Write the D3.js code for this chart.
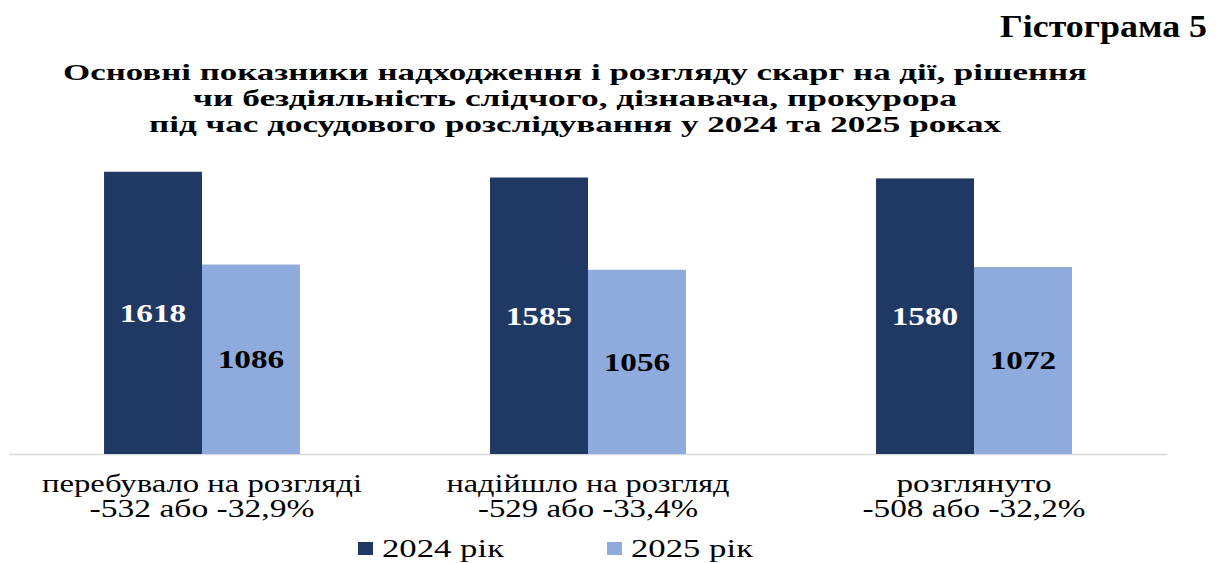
<!DOCTYPE html>
<html>
<head>
<meta charset="utf-8">
<script src="https://cdn.jsdelivr.net/npm/d3@7"></script>
<style>
  html, body { margin: 0; padding: 0; background: #fff; }
  svg { display: block; }
  text { font-family: "Liberation Serif", "Times New Roman", serif; }
</style>
</head>
<body>
<svg id="chart" width="1227" height="563"></svg>
<script>
// ---- data ----
const categories = ["перебувало на розгляді", "надійшло на розгляд", "розглянуто"];
const changeLabels = ["-532 або -32,9%", "-529 або -33,4%", "-508 або -32,2%"];
const seriesNames = ["2024 рік", "2025 рік"];
const values2024 = [1618, 1585, 1580];
const values2025 = [1086, 1056, 1072];
const heading = "Гістограма 5";
const titleLines = [
  "Основні показники надходження і розгляду скарг на дії, рішення",
  "чи бездіяльність слідчого, дізнавача, прокурора",
  "під час досудового розслідування у 2024 та 2025 роках"
];

// ---- layout / style ----
const colors = ["#203864", "#8FAADC"];
const labelColors = ["#ffffff", "#000000"];
const stretch = 1.33; // horizontal stretch of the original typography

const svg = d3.select("#chart");

const x0 = d3.scaleBand().domain(categories).range([9, 1167]).padding(0);
const x1 = d3.scaleBand().domain(seriesNames).range([0, x0.bandwidth()]).paddingInner(0).paddingOuter(0.97);
const y = d3.scaleLinear().domain([0, 1800]).range([454, 140]);
const color = d3.scaleOrdinal().domain(seriesNames).range(colors);

function stretchText(sel, target) {
  sel.each(function() {
    const n = this.getComputedTextLength();
    const w = target != null ? target : n * stretch;
    d3.select(this).attr("textLength", w).attr("lengthAdjust", "spacingAndGlyphs");
  });
}

// heading
svg.append("text")
  .attr("x", 1207).attr("y", 37)
  .attr("text-anchor", "end")
  .attr("font-weight", "bold").attr("font-size", 32)
  .text(heading)
  .call(stretchText, 207);

// title
const titleWidths = [1024, 764, 852];
const titleBase = [80, 106, 132];
titleLines.forEach((t, i) => {
  svg.append("text")
    .attr("x", 575).attr("y", titleBase[i])
    .attr("text-anchor", "middle")
    .attr("font-weight", "bold").attr("font-size", 23)
    .text(t)
    .call(stretchText, titleWidths[i]);
});

// axis line
const axis = svg.append("g")
  .attr("transform", `translate(0,${y(0)})`)
  .call(d3.axisBottom(x0).tickSize(0).tickFormat(""));
axis.select(".domain").attr("stroke", "#d9d9d9").attr("stroke-width", 1.5);

// bars
const data = categories.map((c, i) => ({
  cat: c,
  vals: [
    { s: seriesNames[0], v: values2024[i], k: 0 },
    { s: seriesNames[1], v: values2025[i], k: 1 }
  ]
}));

const groups = svg.append("g").selectAll("g")
  .data(data).join("g")
  .attr("transform", d => `translate(${x0(d.cat)},0)`);

groups.selectAll("rect")
  .data(d => d.vals).join("rect")
  .attr("x", d => x1(d.s))
  .attr("y", d => y(d.v))
  .attr("width", x1.bandwidth())
  .attr("height", d => y(0) - y(d.v))
  .attr("fill", d => color(d.s));

groups.selectAll("text.val")
  .data(d => d.vals).join("text")
  .attr("class", "val")
  .attr("x", d => x1(d.s) + x1.bandwidth() / 2)
  .attr("y", d => (y(d.v) + y(0)) / 2 + 9)
  .attr("text-anchor", "middle")
  .attr("font-weight", "bold").attr("font-size", 25)
  .attr("fill", d => labelColors[d.k])
  .text(d => d.v)
  .call(stretchText);

// category labels
const catWidths = [320, 283, 155];
const chgWidths = [225, 220, 223];
categories.forEach((c, i) => {
  const cx = x0(c) + x0.bandwidth() / 2;
  svg.append("text")
    .attr("x", cx).attr("y", 492)
    .attr("text-anchor", "middle").attr("font-size", 25)
    .text(c).call(stretchText, catWidths[i]);
  svg.append("text")
    .attr("x", cx).attr("y", 517)
    .attr("text-anchor", "middle").attr("font-size", 25)
    .text(changeLabels[i]).call(stretchText, chgWidths[i]);
});

// legend
const legendX = [358, 607];
seriesNames.forEach((s, i) => {
  svg.append("rect")
    .attr("x", legendX[i]).attr("y", 542)
    .attr("width", 15).attr("height", 13)
    .attr("fill", color(s));
  svg.append("text")
    .attr("x", legendX[i] + 24).attr("y", 557)
    .attr("font-size", 25)
    .text(s).call(stretchText, 122);
});
</script>
</body>
</html>
